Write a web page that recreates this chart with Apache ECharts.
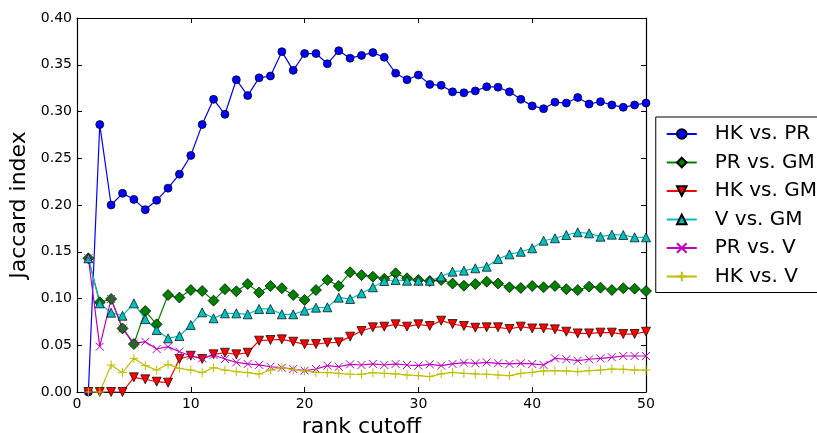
<!DOCTYPE html>
<html>
<head>
<meta charset="utf-8">
<script src="https://cdn.jsdelivr.net/npm/echarts/dist/echarts.min.js"></script>
<style>
  html, body { margin: 0; padding: 0; background: #fff; }
  #chart { width: 817px; height: 433px; }
</style>
</head>
<body>
<div id="chart"></div>
<script>
// rank cutoff values (x)
const ranks = [1,2,3,4,5,6,7,8,9,10,11,12,13,14,15,16,17,18,19,20,21,22,23,24,25,
  26,27,28,29,30,31,32,33,34,35,36,37,38,39,40,41,42,43,44,45,46,47,48,49,50];

const hkPr = [0, 0.286, 0.200, 0.2125, 0.206, 0.195, 0.205, 0.218, 0.233, 0.253,
  0.286, 0.313, 0.297, 0.334, 0.317, 0.336, 0.338, 0.364, 0.344, 0.362,
  0.362, 0.351, 0.365, 0.357, 0.360, 0.363, 0.358, 0.341, 0.334, 0.339,
  0.329, 0.328, 0.321, 0.320, 0.322, 0.3265, 0.326, 0.321, 0.313, 0.306,
  0.303, 0.310, 0.309, 0.315, 0.308, 0.3105, 0.307, 0.3045, 0.307, 0.309];

const prGm = [0.143, 0.096, 0.0995, 0.068, 0.0513, 0.0866, 0.0724, 0.1037, 0.101, 0.109,
  0.108, 0.0977, 0.110, 0.1077, 0.1155, 0.1064, 0.1134, 0.111, 0.1037, 0.0984,
  0.109, 0.1198, 0.1134, 0.128, 0.125, 0.1233, 0.121, 0.127, 0.1216, 0.1198,
  0.1187, 0.1198, 0.116, 0.1137, 0.1155, 0.118, 0.116, 0.112, 0.1112, 0.1134,
  0.112, 0.1134, 0.110, 0.109, 0.1127, 0.1116, 0.109, 0.111, 0.1105, 0.108];

const hkGm = [0, 0, 0, 0, 0.0157, 0.0136, 0.011, 0.010, 0.0353, 0.0388,
  0.0353, 0.0403, 0.042, 0.0403, 0.042, 0.0549, 0.0556, 0.0563, 0.0538, 0.051,
  0.0513, 0.0527, 0.0531, 0.0592, 0.0652, 0.0692, 0.0699, 0.0724, 0.0699, 0.0724,
  0.0706, 0.0763, 0.0727, 0.0706, 0.0688, 0.0692, 0.0692, 0.0674, 0.0699, 0.068,
  0.068, 0.067, 0.0645, 0.0627, 0.0627, 0.0635, 0.0635, 0.062, 0.062, 0.0645];

const vGm = [0.143, 0.0948, 0.0848, 0.0816, 0.0948, 0.078, 0.0663, 0.0574, 0.0599, 0.0717,
  0.0852, 0.0788, 0.0841, 0.0841, 0.0831, 0.0888, 0.0888, 0.0831, 0.0831, 0.087,
  0.0902, 0.0906, 0.1009, 0.0995, 0.1055, 0.112, 0.1187, 0.1198, 0.119, 0.119,
  0.119, 0.1235, 0.1287, 0.1298, 0.1323, 0.134, 0.1422, 0.1472, 0.150, 0.1537,
  0.1618, 0.1644, 0.1679, 0.1708, 0.1697, 0.1661, 0.1683, 0.1679, 0.1654, 0.1654];

const prV = [0.143, 0.0485, 0.0995, 0.068, 0.052, 0.0538, 0.046, 0.0485, 0.0431, 0.0388,
  0.036, 0.0396, 0.0353, 0.0317, 0.030, 0.029, 0.027, 0.026, 0.0246, 0.0228,
  0.0246, 0.0282, 0.027, 0.0296, 0.0289, 0.030, 0.0289, 0.030, 0.0289, 0.0282,
  0.0296, 0.0282, 0.030, 0.0314, 0.0307, 0.0317, 0.0307, 0.030, 0.0307, 0.030,
  0.0289, 0.036, 0.035, 0.0335, 0.035, 0.036, 0.0371, 0.0385, 0.0385, 0.0385];

const hkV = [0, 0, 0.0289, 0.0207, 0.036, 0.0282, 0.0235, 0.0296, 0.0253, 0.0235,
  0.0207, 0.026, 0.0235, 0.0217, 0.0207, 0.0192, 0.0235, 0.026, 0.024, 0.0225,
  0.021, 0.0207, 0.020, 0.019, 0.019, 0.0207, 0.020, 0.0193, 0.0182, 0.0175,
  0.0164, 0.0193, 0.021, 0.020, 0.0193, 0.019, 0.0182, 0.0175, 0.020, 0.021,
  0.0225, 0.0228, 0.0225, 0.0217, 0.0228, 0.0235, 0.0246, 0.0243, 0.0235, 0.0235];

const xTicks = [0, 10, 20, 30, 40, 50];
const yTicks = [0, 0.05, 0.10, 0.15, 0.20, 0.25, 0.30, 0.35, 0.40];

const font = 'DejaVu Sans';

function pairs(ys) {
  return ranks.map((r, i) => [r, ys[i]]);
}

function line(name, ys, color, symbol, size, extra) {
  return Object.assign({
    name: name,
    type: 'line',
    data: pairs(ys),
    symbol: symbol,
    symbolSize: size,
    showAllSymbol: true,
    animation: false,
    lineStyle: { color: color, width: 1.2 },
    itemStyle: { color: color, borderColor: '#000', borderWidth: 0.7 },
    emphasis: { disabled: true }
  }, extra || {});
}

const crossX = 'path://M0,0L10,10M10,0L0,10';
const crossPlus = 'path://M5,0L5,10M0,5L10,5';

const series = [
  line('HK vs. PR', hkPr, '#0000ff', 'circle', 8),
  line('PR vs. GM', prGm, '#008000', 'diamond', 11),
  line('HK vs. GM', hkGm, '#ff0000', 'triangle', 9, { symbolRotate: 180 }),
  line('V vs. GM', vGm, '#00bfbf', 'triangle', 9),
  line('PR vs. V', prV, '#bf00bf', crossX, 8, {
    itemStyle: { color: 'rgba(0,0,0,0)', borderColor: '#bf00bf', borderWidth: 1 }
  }),
  line('HK vs. V', hkV, '#bfbf00', crossPlus, 9, {
    itemStyle: { color: 'rgba(0,0,0,0)', borderColor: '#bfbf00', borderWidth: 1 }
  })
];

const grid = { left: 77, top: 18, width: 569, height: 374, show: false,
  containLabel: false, outerBoundsMode: 'none' };

const tickStyle = { show: true, inside: true, length: 5, lineStyle: { color: '#000', width: 1 } };
const axisLine = { show: true, onZero: false, lineStyle: { color: '#000', width: 1.2 } };

const chart = echarts.init(document.getElementById('chart'), null, { renderer: 'canvas' });
chart.setOption({
  backgroundColor: '#fff',
  animation: false,
  grid: grid,
  legend: {
    orient: 'vertical',
    right: -10,
    top: 117,
    padding: [7, 10, 6, 10],
    itemWidth: 30,
    itemHeight: 12,
    itemGap: 8.5,
    backgroundColor: '#fff',
    borderColor: '#000',
    borderWidth: 1,
    borderRadius: 0,
    textStyle: { fontFamily: font, fontSize: 20, color: '#000', lineHeight: 20, padding: [0, 0, 0, 13] },
    data: series.map(s => s.name)
  },
  xAxis: [{
    type: 'value', min: xTicks[0], max: xTicks[xTicks.length - 1], interval: 10,
    position: 'bottom',
    name: 'rank cutoff', nameLocation: 'middle', nameGap: 19,
    nameTextStyle: { fontFamily: font, fontSize: 22, color: '#000', verticalAlign: 'top' },
    axisLine: axisLine, axisTick: tickStyle,
    axisLabel: { fontFamily: font, fontSize: 14, color: '#000', margin: 5 },
    splitLine: { show: false }
  }, {
    type: 'value', min: xTicks[0], max: xTicks[xTicks.length - 1], interval: 10,
    position: 'top',
    axisLine: axisLine, axisTick: tickStyle,
    axisLabel: { show: false }, splitLine: { show: false }
  }],
  yAxis: [{
    type: 'value', min: yTicks[0], max: yTicks[yTicks.length - 1], interval: 0.05,
    position: 'left',
    name: 'Jaccard index', nameLocation: 'middle', nameGap: 44,
    nameTextStyle: { fontFamily: font, fontSize: 22, color: '#000' },
    axisLine: axisLine, axisTick: tickStyle,
    axisLabel: { fontFamily: font, fontSize: 14, color: '#000', margin: 5,
      formatter: v => v.toFixed(2) },
    splitLine: { show: false }
  }, {
    type: 'value', min: yTicks[0], max: yTicks[yTicks.length - 1], interval: 0.05,
    position: 'right',
    axisLine: axisLine, axisTick: tickStyle,
    axisLabel: { show: false }, splitLine: { show: false }
  }],
  series: series
});
</script>
</body>
</html>
